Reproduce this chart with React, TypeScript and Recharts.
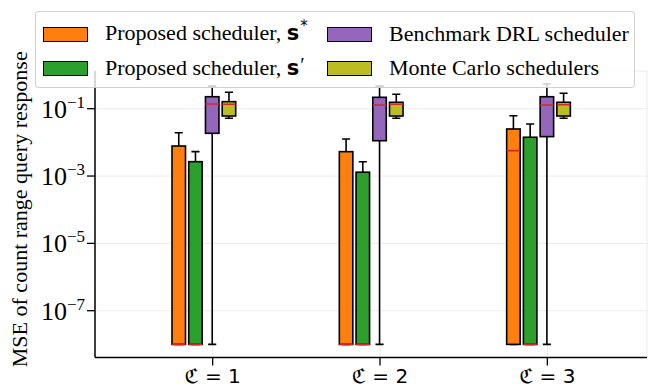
import { Bar, CartesianGrid, ComposedChart, XAxis, YAxis } from 'recharts';

// box statistics per category: [min, q1, median, q3, max]
const categories = ['ℭ = 1', 'ℭ = 2', 'ℭ = 3'];
const proposedStar = [
  [1e-8, 1e-8, 1e-8, 7.8e-3, 1.94e-2],
  [1e-8, 1e-8, 1e-8, 5.3e-3, 1.26e-2],
  [1e-8, 1e-8, 5.7e-3, 2.5e-2, 6.2e-2],
];
const proposedPrime = [
  [1e-8, 1e-8, 1e-8, 2.67e-3, 5.3e-3],
  [1e-8, 1e-8, 1e-8, 1.3e-3, 2.67e-3],
  [1e-8, 1e-8, 1e-8, 1.42e-2, 3.5e-2],
];
const benchmarkDrl = [
  [1e-8, 1.86e-2, 0.138, 0.227, 0.47],
  [1e-8, 1.12e-2, 0.129, 0.218, 0.47],
  [1e-8, 1.48e-2, 0.129, 0.227, 0.54],
];
const monteCarlo = [
  [0.052, 0.0607, 0.135, 0.162, 0.307],
  [0.052, 0.0607, 0.135, 0.155, 0.268],
  [0.052, 0.0607, 0.131, 0.155, 0.287],
];
const yTicks = [1e-7, 1e-5, 1e-3, 1e-1];
const yDomain = [10 ** -8.39, 10 ** 0.12];

const seriesInfo = [
  { key: 'star', color: '#ff7f0e' },
  { key: 'prime', color: '#2ca02c' },
  { key: 'drl', color: '#9467bd' },
  { key: 'mc', color: '#bcbd22' },
];

const data = categories.map((name, i) => ({
  name,
  star: proposedStar[i],
  prime: proposedPrime[i],
  drl: benchmarkDrl[i],
  mc: monteCarlo[i],
}));

const SERIF = '"Liberation Serif", "Times New Roman", serif';
const SANS = '"DejaVu Sans", sans-serif';
const MEDIAN = '#d62728';

// the bar spans [min, max]; inner stats are placed on the same log scale
function boxShape(key: string, color: string) {
  return (props: any) => {
    const { x, y, width, height, payload } = props;
    const s: number[] = payload?.[key];
    if (!s || width == null) return <g />;
    const top = Math.min(y, y + height);
    const bot = Math.max(y, y + height);
    const lo = Math.log10(s[0]);
    const hi = Math.log10(s[4]);
    const px = (v: number) => bot - ((Math.log10(v) - lo) / (hi - lo)) * (bot - top);
    const cx = x + width / 2;
    const cap = width * 0.3;
    const lw = 1.6;
    return (
      <g>
        <line x1={cx} x2={cx} y1={px(s[3])} y2={px(s[4])} stroke="#000" strokeWidth={lw} />
        <line x1={cx} x2={cx} y1={px(s[1])} y2={px(s[0])} stroke="#000" strokeWidth={lw} />
        <line x1={cx - cap} x2={cx + cap} y1={px(s[4])} y2={px(s[4])} stroke="#000" strokeWidth={lw} />
        <line x1={cx - cap} x2={cx + cap} y1={px(s[0])} y2={px(s[0])} stroke="#000" strokeWidth={lw} />
        <rect x={x} y={px(s[3])} width={width} height={px(s[1]) - px(s[3])} fill={color} stroke="#000" strokeWidth={lw} />
        <line x1={x} x2={x + width} y1={px(s[2])} y2={px(s[2])} stroke={MEDIAN} strokeWidth={lw} />
      </g>
    );
  };
}

function YTick(props: any) {
  const { x, y, payload } = props;
  const exp = Math.round(Math.log10(payload.value));
  return (
    <text x={x} y={y + 9} textAnchor="end" fontFamily={SERIF} fill="#000">
      <tspan fontSize={26}>10</tspan>
      <tspan fontSize={17} dy={-10}>{exp < 0 ? `−${-exp}` : exp}</tspan>
    </text>
  );
}

function XTick(props: any) {
  const { x, y, payload } = props;
  return (
    <text x={x} y={y + 15} textAnchor="middle" fontFamily={SANS} fontSize={20} fill="#000">
      {payload.value}
    </text>
  );
}

function YLabel(props: any) {
  const vb = props.viewBox || { x: 0, y: 71, width: 95, height: 286 };
  const cx = vb.x + 27;
  const cy = vb.y + vb.height / 2 - 5;
  return (
    <text x={cx} y={cy} transform={`rotate(-90 ${cx} ${cy})`} textAnchor="middle" fontFamily={SERIF} fontSize={22} fill="#000">
      MSE of count range query response
    </text>
  );
}

const legendItems = [
  { color: '#ff7f0e', label: 'Proposed scheduler, ', sym: '*', col: 0, row: 0 },
  { color: '#2ca02c', label: 'Proposed scheduler, ', sym: '′', col: 0, row: 1 },
  { color: '#9467bd', label: 'Benchmark DRL scheduler', col: 1, row: 0 },
  { color: '#bcbd22', label: 'Monte Carlo schedulers', col: 1, row: 1 },
];

function LegendBox() {
  return (
    <div
      style={{
        position: 'absolute',
        left: 35,
        top: 11,
        width: 600,
        height: 77,
        border: '1px solid rgba(200,200,200,0.85)',
        borderRadius: 4,
        background: 'rgba(255,255,255,0.8)',
        boxSizing: 'border-box',
      }}
    >
      {legendItems.map((it, i) => (
        <div key={i} style={{ position: 'absolute', left: it.col ? 291 : 7, top: it.row ? 46 : 12, display: 'flex', alignItems: 'center', height: 20 }}>
          <div style={{ width: 43, height: 13, background: it.color, border: '1.5px solid #000' }} />
          <span style={{ marginLeft: 17, fontFamily: SERIF, fontSize: 22, color: '#000', whiteSpace: 'nowrap', lineHeight: '20px' }}>
            {it.label}
            {it.sym && (
              <span style={{ fontFamily: SANS, fontWeight: 'bold', fontSize: 21 }}>
                s
                <span
                  style={{
                    fontWeight: 'normal',
                    fontSize: it.sym === '*' ? 15 : 20,
                    fontFamily: it.sym === '*' ? SANS : SERIF,
                    position: 'relative',
                    top: it.sym === '*' ? -9 : -3,
                    marginLeft: 1,
                  }}
                >
                  {it.sym}
                </span>
              </span>
            )}
          </span>
        </div>
      ))}
    </div>
  );
}

export default function App() {
  return (
    <div style={{ position: 'absolute', left: 0, top: 0, width: 651, height: 388, background: '#fff' }}>
      <ComposedChart width={651} height={388} data={data} margin={{ top: 71, right: 4, bottom: 0, left: 0 }} barSize={13.5} barGap={3.23}>
        <CartesianGrid stroke="#ebebeb" strokeWidth={1} />
        <XAxis
          dataKey="name"
          height={30.5}
          padding={{ left: 34, right: 16 }}
          stroke="#000"
          tick={<XTick />}
          tickSize={8}
          tickLine={{ stroke: '#000', strokeWidth: 1.3 }}
          axisLine={{ stroke: '#000', strokeWidth: 1.5 }}
          interval={0}
        />
        <XAxis xAxisId="top" orientation="top" dataKey="name" height={0} stroke="#000" tick={false} tickLine={false} axisLine={{ stroke: '#000', strokeWidth: 1.6 }} />
        <YAxis
          width={95}
          scale="log"
          domain={yDomain}
          allowDataOverflow
          ticks={yTicks}
          interval={0}
          stroke="#000"
          tick={<YTick />}
          tickSize={8}
          tickMargin={2}
          tickLine={{ stroke: '#000', strokeWidth: 1.3 }}
          axisLine={{ stroke: '#000', strokeWidth: 1.5 }}
          label={<YLabel />}
        />
        <YAxis yAxisId="right" orientation="right" width={0} stroke="#000" tick={false} tickLine={false} axisLine={{ stroke: '#000', strokeWidth: 1.6 }} />
        {seriesInfo.map(s => (
          <Bar
            key={s.key}
            dataKey={(d: any) => [d[s.key][0], d[s.key][4]]}
            shape={boxShape(s.key, s.color)}
            isAnimationActive={false}
          />
        ))}
        {/* empty fifth slot so the DRL box sits on the category tick */}
        <Bar dataKey={() => null} shape={() => <g />} isAnimationActive={false} />
      </ComposedChart>
      <LegendBox />
    </div>
  );
}
